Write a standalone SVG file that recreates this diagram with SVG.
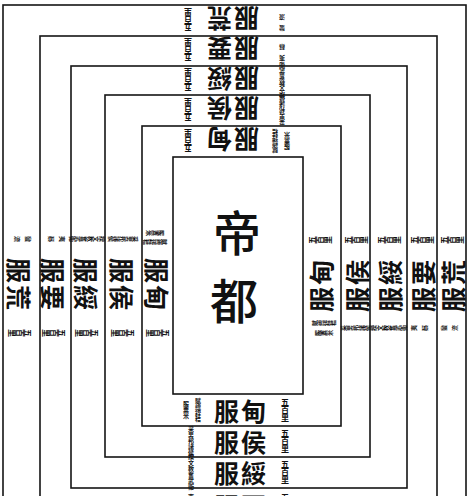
<svg xmlns="http://www.w3.org/2000/svg" width="470" height="496" viewBox="0 0 470 496">
<style>
.ring{fill:none;stroke:#151515;stroke-width:1.6}
.big{font-family:"Noto Sans CJK TC","Noto Sans CJK SC",sans-serif;font-size:25px;font-weight:700;text-anchor:middle;dominant-baseline:central;fill:#111;letter-spacing:2px}
.li{font-family:"Noto Sans CJK TC","Noto Sans CJK SC",sans-serif;font-size:8px;font-weight:700;writing-mode:vertical-rl;text-anchor:middle;fill:#111}
.note{font-family:"Noto Sans CJK TC","Noto Sans CJK SC",sans-serif;font-size:6px;font-weight:700;writing-mode:vertical-rl;text-anchor:middle;fill:#111}
.cap{font-family:"Noto Sans CJK TC","Noto Sans CJK SC",serif;font-size:48px;font-weight:500;text-anchor:middle;dominant-baseline:central;fill:#111}
</style>
<rect width="470" height="496" fill="#fff"/>
<g id="connectors"></g>
<g id="capital">
<rect class="ring" x="173" y="157" width="130" height="237"/>
<text class="cap" x="237" y="230">帝</text>
<text class="cap" x="234" y="298">都</text>
</g>
<g id="zone-dian">
<rect class="ring" x="142" y="126" width="199" height="300"/>
<g transform="translate(241,410)"><text class="big">服甸</text><text class="li" x="44">五百里</text><text class="note" x="-43">賦總銍秸</text><text class="note" x="-55">服粟米</text></g>
<g transform="translate(232,141) rotate(180)"><text class="big">服甸</text><text class="li" x="44">五百里</text><text class="note" x="-43">賦總銍秸</text><text class="note" x="-55">服粟米</text></g>
<g transform="translate(158,285) rotate(90)"><text class="big">服甸</text><text class="li" x="48">五百里</text><text class="note" x="-43" y="3">賦總銍秸</text><text class="note" x="-52" y="3">服粟米</text></g>
<g transform="translate(320,285) rotate(-90)"><text class="big">服甸</text><text class="li" x="45">五百里</text><text class="note" x="-38" y="4">賦總銍秸</text><text class="note" x="-48" y="4">服粟米</text></g>
</g>
<g id="zone-hou">
<rect class="ring" x="105" y="95" width="265" height="362"/>
<g transform="translate(241,441)"><text class="big">服侯</text><text class="li" x="44">五百里</text><text class="note" x="-50">采男邦諸侯</text></g>
<g transform="translate(232,110) rotate(180)"><text class="big">服侯</text><text class="li" x="44">五百里</text><text class="note" x="-50">采男邦諸侯</text></g>
<g transform="translate(123,285) rotate(90)"><text class="big">服侯</text><text class="li" x="48">五百里</text><text class="note" x="-46">采男邦諸侯</text></g>
<g transform="translate(356,285) rotate(-90)"><text class="big">服侯</text><text class="li" x="45">五百里</text><text class="note" x="-43">采男邦諸侯</text></g>
</g>
<g id="zone-sui">
<rect class="ring" x="71" y="66" width="336" height="422"/>
<g transform="translate(241,472)"><text class="big">服綏</text><text class="li" x="44">五百里</text><text class="note" x="-50">揆文教奮武衛</text></g>
<g transform="translate(232,80) rotate(180)"><text class="big">服綏</text><text class="li" x="44">五百里</text><text class="note" x="-50">揆文教奮武衛</text></g>
<g transform="translate(87,285) rotate(90)"><text class="big">服綏</text><text class="li" x="48">五百里</text><text class="note" x="-46">揆文教奮武衛</text></g>
<g transform="translate(389,285) rotate(-90)"><text class="big">服綏</text><text class="li" x="45">五百里</text><text class="note" x="-43">揆文教奮武衛</text></g>
</g>
<g id="zone-yao">
<rect class="ring" x="40" y="36" width="397" height="500"/>
<g transform="translate(241,505)"><text class="big">服要</text><text class="li" x="44">五百里</text><text class="note" x="-50" style="letter-spacing:5px">夷蔡</text></g>
<g transform="translate(232,50) rotate(180)"><text class="big">服要</text><text class="li" x="44">五百里</text><text class="note" x="-50" style="letter-spacing:5px">夷蔡</text></g>
<g transform="translate(54,285) rotate(90)"><text class="big">服要</text><text class="li" x="48">五百里</text><text class="note" x="-46" style="letter-spacing:5px">夷蔡</text></g>
<g transform="translate(422,285) rotate(-90)"><text class="big">服要</text><text class="li" x="45">五百里</text><text class="note" x="-43" style="letter-spacing:5px">夷蔡</text></g>
</g>
<g id="zone-huang">
<rect class="ring" x="3" y="5" width="463" height="540"/>
<g transform="translate(232,20) rotate(180)"><text class="big">服荒</text><text class="li" x="44">五百里</text><text class="note" x="-50" style="letter-spacing:5px">蠻流</text></g>
<g transform="translate(20,285) rotate(90)"><text class="big">服荒</text><text class="li" x="48">五百里</text><text class="note" x="-46" style="letter-spacing:5px">蠻流</text></g>
<g transform="translate(452,285) rotate(-90)"><text class="big">服荒</text><text class="li" x="45">五百里</text><text class="note" x="-43" style="letter-spacing:5px">蠻流</text></g>
</g>
</svg>
